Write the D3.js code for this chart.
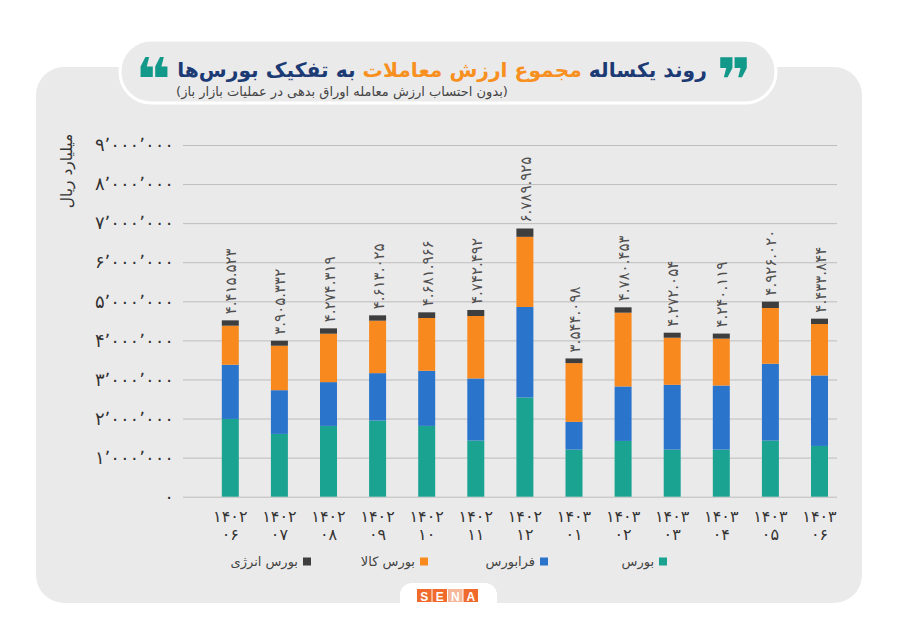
<!DOCTYPE html>
<html><head><meta charset="utf-8">
<script src="https://cdn.jsdelivr.net/npm/d3@7"></script>
<style>
html,body{margin:0;padding:0;background:#fff;}
svg{display:block;font-family:"DejaVu Sans",sans-serif;}
</style></head>
<body>
<svg id="c" width="900" height="636"></svg>
<script>
// ---------- data ----------
const years  = ["۱۴۰۲","۱۴۰۲","۱۴۰۲","۱۴۰۲","۱۴۰۲","۱۴۰۲","۱۴۰۲","۱۴۰۳","۱۴۰۳","۱۴۰۳","۱۴۰۳","۱۴۰۳","۱۴۰۳"];
const months = ["۰۶","۰۷","۰۸","۰۹","۱۰","۱۱","۱۲","۰۱","۰۲","۰۳","۰۴","۰۵","۰۶"];
const bourse     = [1990000,1607000,1812000,1949000,1812000,1436000,2538000,1205000,1427000,1205000,1205000,1436000,1299000];
const farabourse = [1386000,1119000,1120000,1213000,1410000,1590000,2317000, 710000,1394000,1658000,1640000,1966000,1804000];
const kala       = [1000000,1137000,1239000,1342000,1351000,1598000,1795000,1504000,1888000,1205000,1200000,1427000,1316000];
const energy     = [ 137000, 128000, 137000, 137000, 145000, 154000, 213000, 119000, 137000, 129000, 129000, 162000, 137000];
const totals     = [4415523,3905332,4274319,4613025,4681966,4742492,6789925,3544098,4780453,4272054,4240119,4926020,4433844];
const seriesNames = ["بورس","فرابورس","بورس کالا","بورس انرژی"];
const yTicks = [0,1000000,2000000,3000000,4000000,5000000,6000000,7000000,8000000,9000000];

const colors = ["#1ba392","#2a74cb","#f7891f","#3e3e3e"];
const fa = s => String(s).replace(/[0-9]/g, d => "۰۱۲۳۴۵۶۷۸۹"[+d]);

const svg = d3.select("#c");

// ---------- background ----------
svg.append("rect").attr("x",36).attr("y",67).attr("width",826).attr("height",536).attr("rx",28).attr("fill","#ebeaeb");
svg.append("rect").attr("x",400).attr("y",583).attr("width",97).attr("height",40).attr("rx",12).attr("fill","#fff");
svg.append("rect").attr("x",120).attr("y",40).attr("width",656).attr("height",63).attr("rx",31)
  .attr("fill","#ebeaeb").attr("stroke","#fff").attr("stroke-width",3);

// ---------- title ----------
const title = svg.append("text").attr("x",442).attr("y",77).attr("text-anchor","middle")
  .attr("direction","rtl").style("direction","rtl").attr("font-weight","bold").attr("font-size",24);
title.append("tspan").attr("fill","#1c3a74").text("روند یکساله ");
title.append("tspan").attr("fill","#f7901e").text("مجموع ارزش معاملات");
title.append("tspan").attr("fill","#1c3a74").text(" به تفکیک بورس‌ها");
const tl = title.node().getComputedTextLength();
title.attr("font-size", 24*530/tl);

svg.append("text").attr("x",734).attr("y",101).attr("text-anchor","middle").attr("font-size",60)
  .attr("font-weight","bold").attr("fill","#13998a").text("❞");
svg.append("text").attr("x",153).attr("y",101).attr("text-anchor","middle").attr("font-size",60)
  .attr("font-weight","bold").attr("fill","#13998a").text("❝");

const sub = svg.append("text").attr("x",342).attr("y",96).attr("text-anchor","middle")
  .attr("direction","rtl").style("direction","rtl").attr("font-size",12.5).attr("fill","#444")
  .text("(بدون احتساب ارزش معامله اوراق بدهی در عملیات بازار باز)");
const sl = sub.node().getComputedTextLength();
sub.attr("font-size",12.5*332/sl);

// ---------- scales ----------
const y = d3.scaleLinear().domain([0,9000000]).range([496.7,145]);
const x = d3.scaleBand().domain(d3.range(years.length)).range([205.75,844.05]).paddingInner(0.654).paddingOuter(0.327);

const yAxis = d3.axisLeft(y).tickValues(yTicks).tickSize(-(837-183)).tickPadding(8)
  .tickFormat(v => fa(d3.format(",")(v)).replace(/,/g,"٬"));
const gy = svg.append("g").attr("transform","translate(183,0)").call(yAxis);
gy.select(".domain").remove();
gy.selectAll(".tick line").attr("stroke","#bdbdbd").attr("stroke-width",1);
gy.selectAll(".tick text").attr("font-size",18).attr("fill","#333").attr("x",-9).attr("font-family","DejaVu Sans");

svg.append("text").attr("transform","translate(72,171) rotate(-90)").attr("text-anchor","middle")
  .attr("direction","rtl").style("direction","rtl").attr("font-size",15.5).attr("fill","#333").text("میلیارد ریال");

// ---------- stacked bars ----------
const table = years.map((yy,i)=>({i, s0:bourse[i], s1:farabourse[i], s2:kala[i], s3:energy[i]}));
const stack = d3.stack().keys(["s0","s1","s2","s3"])(table);
svg.append("g").selectAll("g").data(stack).join("g").attr("fill",(d,k)=>colors[k])
  .selectAll("rect").data(d=>d).join("rect")
  .attr("x",d=>x(d.data.i)).attr("width",x.bandwidth())
  .attr("y",d=>y(d[1])).attr("height",d=>y(d[0])-y(d[1]));

const topSeries = stack[3];
svg.append("g").selectAll("text").data(topSeries).join("text")
  .attr("transform",d=>`translate(${x(d.data.i)+x.bandwidth()/2+6},${y(d[1])-6}) rotate(-90)`)
  .attr("text-anchor","start").attr("font-size",15).attr("fill","#505050")
  .text((d,i)=>fa(d3.format(",")(totals[i])).replace(/,/g,"."));

const gx = svg.append("g");
years.forEach((yy,i)=>{
  const cx = x(i)+x.bandwidth()/2;
  gx.append("text").attr("x",cx).attr("y",522).attr("text-anchor","middle").attr("font-size",16).attr("fill","#333").text(yy);
  gx.append("text").attr("x",cx).attr("y",540).attr("text-anchor","middle").attr("font-size",16).attr("fill","#333").text(months[i]);
});

// ---------- legend ----------
const legX = [663,544,424,307];
const lg = svg.append("g");
seriesNames.forEach((n,k)=>{
  lg.append("rect").attr("x",legX[k]-4).attr("y",557.5).attr("width",8).attr("height",8).attr("fill",colors[k]);
  lg.append("text").attr("x",legX[k]-9).attr("y",566).attr("text-anchor","end").attr("font-size",13)
    .attr("fill","#444").text(n);
});

// ---------- logo ----------
const letters = ["S","E","N","A"];
const lgo = svg.append("g");
letters.forEach((l,k)=>{
  const bx = 417 + k*15.5;
  lgo.append("rect").attr("x",bx).attr("y",589).attr("width",14.5).attr("height",13).attr("fill", k===2 ? "#f5b89a" : "#ef6a2b");
  lgo.append("text").attr("x",bx+7.25).attr("y",600.5).attr("text-anchor","middle").attr("font-size",12)
    .attr("font-weight","bold").attr("fill","#fff").attr("font-family","Liberation Sans").text(l);
});
</script>
</body></html>
